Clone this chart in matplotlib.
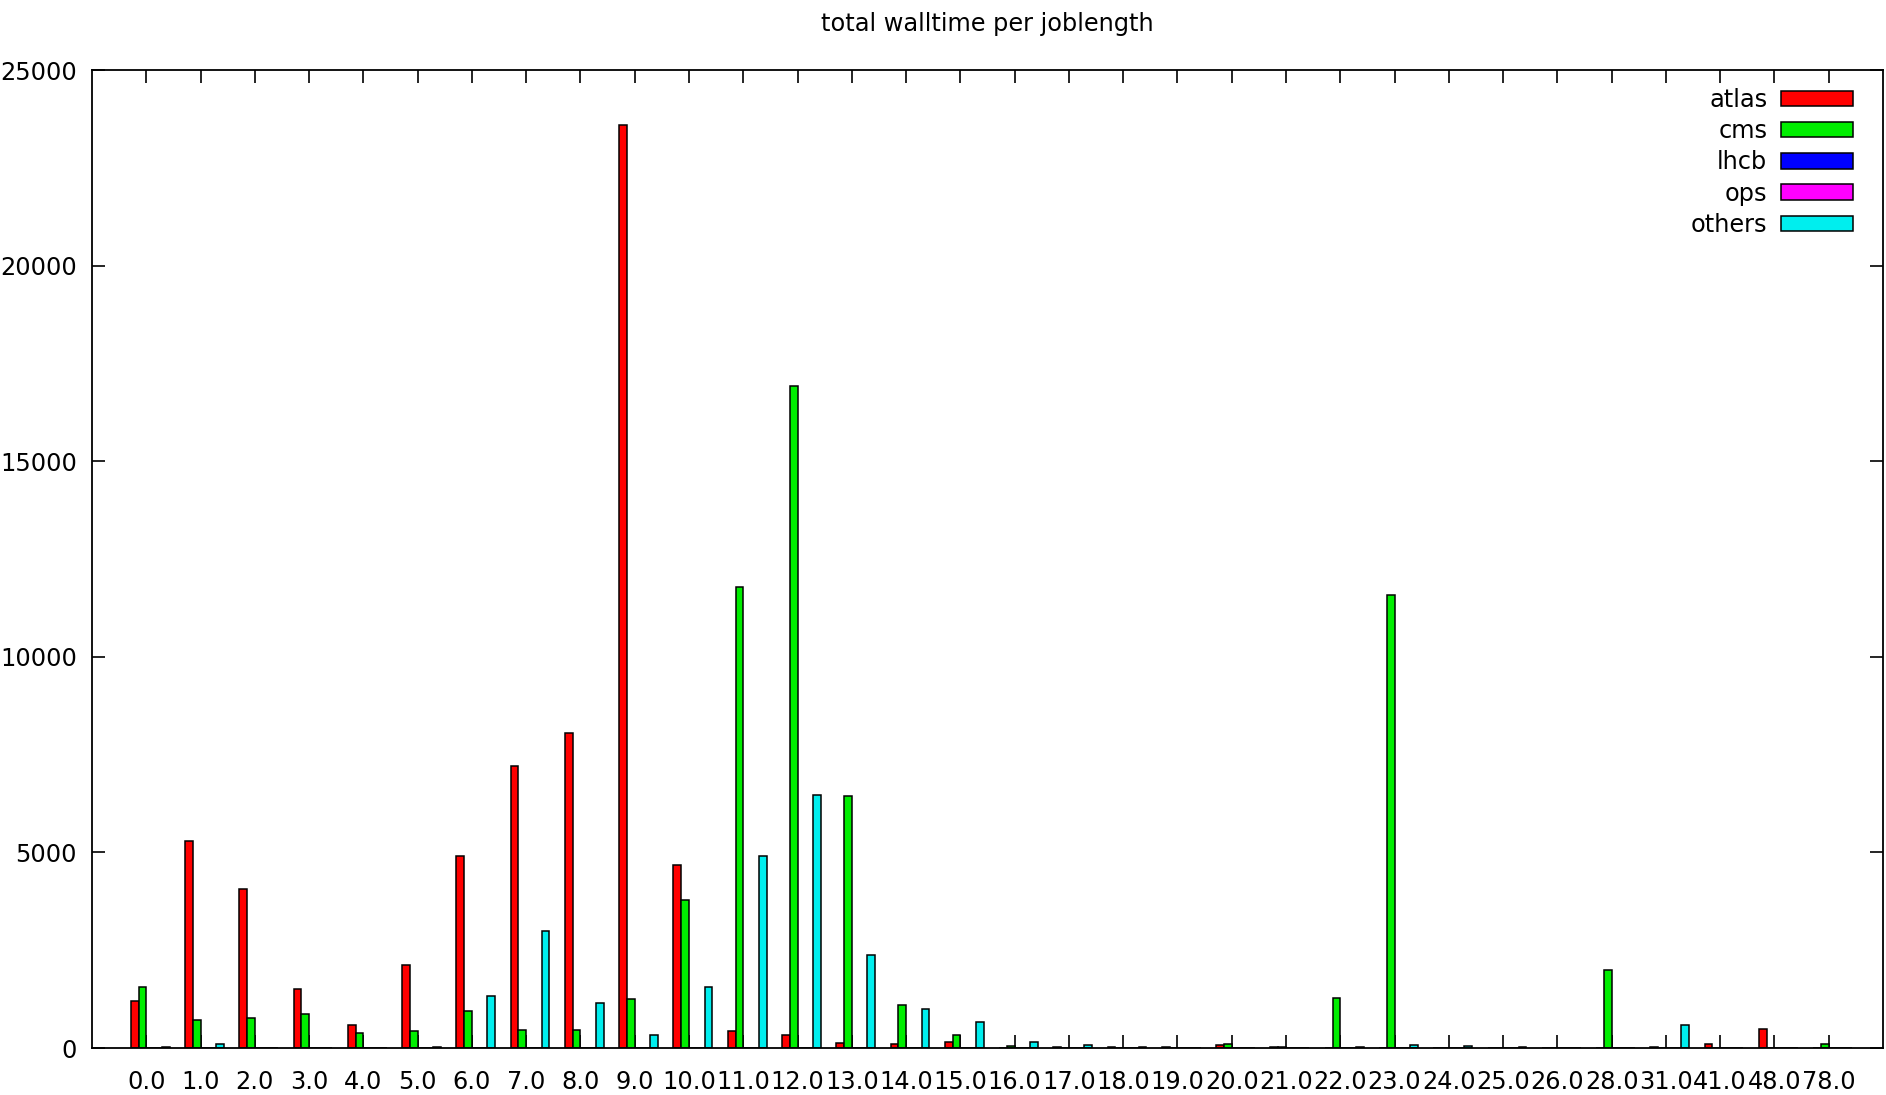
import matplotlib
matplotlib.use("Agg")
import matplotlib.pyplot as plt
import numpy as np

# Catégories (longueur des jobs) et valeurs
joblength = ["0.0", "1.0", "2.0", "3.0", "4.0", "5.0", "6.0", "7.0", "8.0", "9.0",
             "10.0", "11.0", "12.0", "13.0", "14.0", "15.0", "16.0", "17.0", "18.0", "19.0",
             "20.0", "21.0", "22.0", "23.0", "24.0", "25.0", "26.0", "28.0", "31.0", "41.0",
             "48.0", "78.0"]

atlas = [1200, 5300, 4070, 1510, 580, 2130, 4920, 7220, 8050, 23590,
         4680, 440, 340, 120, 110, 160, 0, 30, 30, 30,
         80, 30, 0, 0, 0, 0, 0, 0, 30, 110,
         490, 0]
cms = [1570, 720, 770, 860, 390, 440, 955, 450, 450, 1240,
       3780, 11790, 16920, 6450, 1100, 340, 60, 0, 0, 0,
       110, 30, 1280, 11580, 0, 0, 0, 2000, 0, 0,
       0, 110]
lhcb = [0] * 32
ops = [0] * 32
others = [30, 110, 0, 0, 0, 30, 1340, 2990, 1150, 340,
          1570, 4910, 6480, 2370, 1000, 670, 160, 70, 30, 0,
          0, 0, 30, 80, 60, 30, 0, 0, 580, 0,
          0, 0]

series = ["atlas", "cms", "lhcb", "ops", "others"]
valeurs = [atlas, cms, lhcb, ops, others]
couleurs = ["#ff0000", "#00ee00", "#0000ff", "#ff00ff", "#00eeee"]

plt.rcParams["font.family"] = "DejaVu Sans"
fs = 17.3

fig = plt.figure(figsize=(18.86, 10.95), dpi=100)
ax = fig.add_axes([92 / 1886, 47 / 1095, 1791 / 1886, 978 / 1095])

x = np.arange(len(joblength))
largeur = 1 / 7
# style "histogram clustered gap 2" de gnuplot
for j, (nom, v, c) in enumerate(zip(series, valeurs, couleurs)):
    ax.bar(x + (j - 1.5) * largeur, v, width=largeur, color=c,
           edgecolor="black", linewidth=1.1, label=nom, zorder=2)

ax.set_xlim(-1, 32)
ax.set_ylim(0, 25000)
ax.set_xticks(x)
ax.set_xticklabels(joblength, fontsize=fs)
ax.set_yticks(np.arange(0, 25001, 5000))
ax.set_yticklabels([str(v) for v in range(0, 25001, 5000)], fontsize=fs)
ax.tick_params(axis="both", direction="in", length=9.4, width=1.2,
               top=True, right=True, zorder=1)
ax.tick_params(axis="x", pad=16)
ax.tick_params(axis="y", pad=11)
for s in ax.spines.values():
    s.set_linewidth(1.3)
    s.set_zorder(3)

ax.legend(loc="upper right", bbox_to_anchor=(1 - 30 / 1791, 1 - 18 / 978),
          frameon=False, markerfirst=False, fontsize=fs, handlelength=2.98,
          handleheight=0.61, handletextpad=0.58, labelspacing=0.3,
          borderpad=0, borderaxespad=0)

fig.text((92 + 1883) / 2 / 1886, 1 - 23.5 / 1095, "total walltime per joblength",
         ha="center", va="center", fontsize=fs)

fig.savefig("out.png", dpi=100)
